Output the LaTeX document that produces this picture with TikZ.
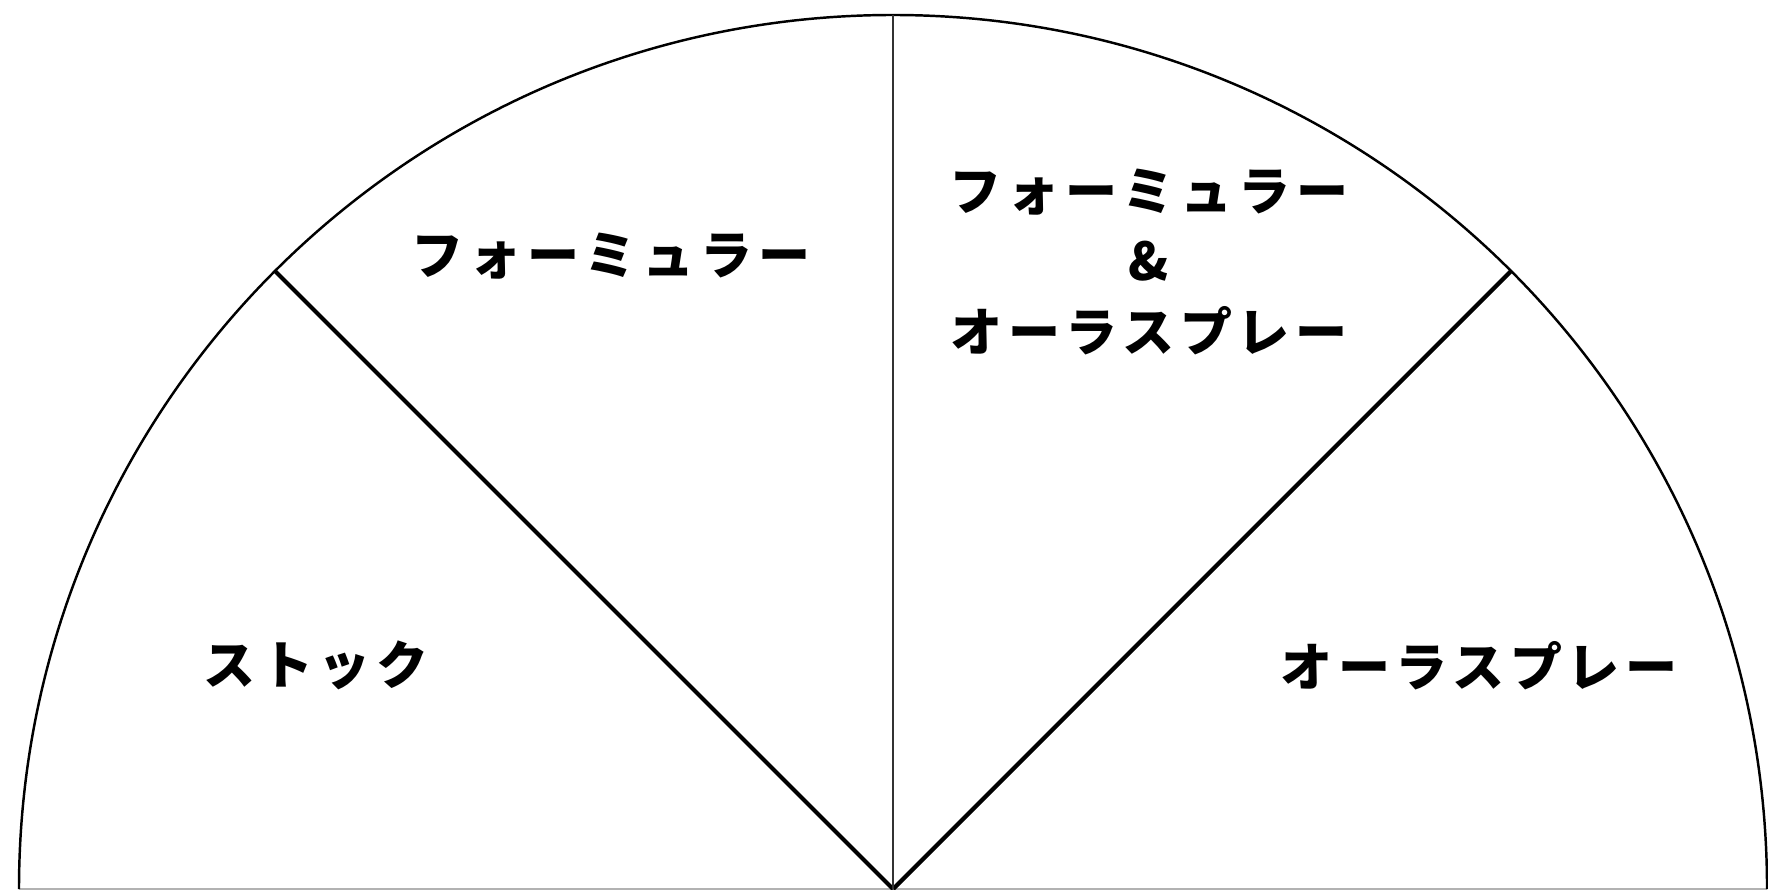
\documentclass[tikz,border=0pt]{standalone}
\usepackage{fontspec}
\newfontfamily\jpfont[LetterSpace=11]{Noto Sans CJK JP}
\begin{document}
\begin{tikzpicture}[
    label/.style={font=\jpfont\bfseries\fontsize{14.8pt}{20pt}\selectfont, align=center, inner sep=0pt},
    rim/.style={line width=0.7pt},
    spoke/.style={line width=1.2pt}
]
    \useasboundingbox (0,0) rectangle (17.68,8.89);

    % Half disc
    \coordinate (o) at (8.93,0);
    \draw[gray!60, line width=0.3pt] (0.19,0) -- (17.67,0);
    \draw[rim] (0.19,0) arc[start angle=180, end angle=0, radius=8.74];

    % Dividers
    \draw[spoke] (o) -- ++(135:8.74) coordinate (pl);
    \draw[spoke] (o) -- ++(45:8.74) coordinate (pr);
    \draw[rim, black!80] (o) -- ++(90:8.74) coordinate (pt);

    % Sector labels
    \node[label] (stock) at (3.16,2.24) {ストック};
    \node[label] (formula) at (6.11,6.33) {フォーミュラー};
    \node[label] (both) at (11.49,6.27) {フォーミュラー\\\&\\オーラスプレー};
    \node[label] (aura) at (14.79,2.23) {オーラスプレー};
\end{tikzpicture}
\end{document}
